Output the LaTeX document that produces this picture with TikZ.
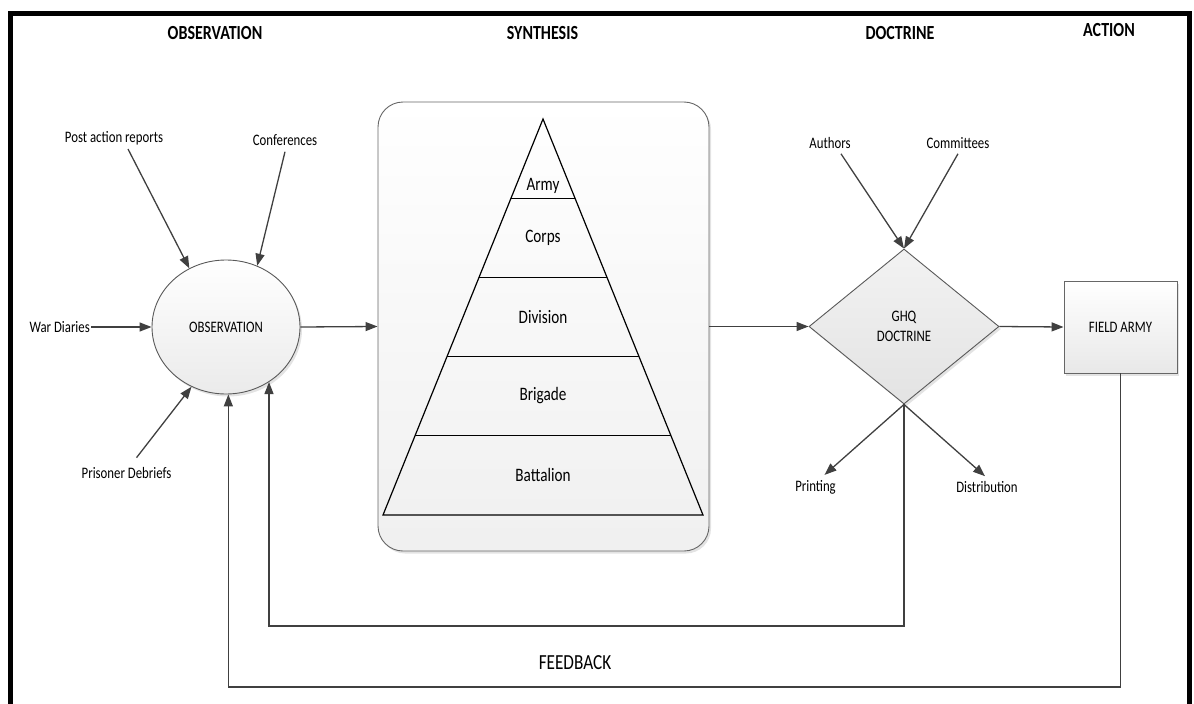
\documentclass[tikz,border=0pt]{standalone}
\usepackage{fontspec}
\setmainfont{Carlito}[FakeStretch=0.8]
\usetikzlibrary{arrows.meta,shapes.geometric,shadows,calc}

\tikzset{
  lbl/.style={font=\fontsize{16}{18}\selectfont, inner sep=1pt, text=black},
  head/.style={font=\fontsize{20}{22}\selectfont\bfseries, inner sep=1pt},
  tier/.style={font=\fontsize{19}{21}\selectfont, inner sep=1pt, text=black},
  link/.style={draw=black!75, line width=1.3pt},
  arr/.style={link, -{Triangle[length=12pt,width=9pt]}},
  soft/.style={drop shadow={opacity=0.22, shadow xshift=2pt, shadow yshift=-2.5pt}},
  pyr/.style={draw=black, line width=1.2pt, line join=miter}
}

\begin{document}
\begin{tikzpicture}[x=1pt, y=-1pt]
\useasboundingbox (0,0) rectangle (1194,704);

% frame
\draw[line width=5pt] (10.5,704) -- (10.5,13) -- (1189.5,13) -- (1189.5,704);

% column headings
\node[head] (hobs) at (215,33) {OBSERVATION};
\node[head] (hsyn) at (542.5,33.5) {SYNTHESIS};
\node[head] (hdoc) at (900,33) {DOCTRINE};
\node[head] (hact) at (1109,30) {ACTION};

% observation
\node[ellipse, draw=black!65, line width=0.9pt, minimum width=148pt, minimum height=134pt,
      inner sep=0pt, top color=white, bottom color=black!8, soft,
      font=\fontsize{16}{18}\selectfont] (obs) at (226,327) {OBSERVATION};

\node[lbl] (pa) at (114,138) {Post action reports};
\node[lbl] (cf) at (285,140) {Conferences};
\node[lbl, anchor=east] (wd) at (91,327) {War Diaries};
\node[lbl] (pd) at (126.5,472.5) {Prisoner Debriefs};

\draw[arr] ([xshift=14pt,yshift=-3pt]pa.south) -- (obs.122);
\draw[arr] ([yshift=-5pt]cf.south) -- (obs.63);
\draw[arr] (wd.east) -- (obs.west);
\draw[arr] ([xshift=10pt,yshift=8pt]pd.north) -- (obs.240);

% synthesis
\node[draw=black!60, line width=0.9pt, rounded corners=25pt, minimum width=331pt,
      minimum height=449pt, top color=white, bottom color=black!6, soft] (syn) at (543.5,326.5) {};

\coordinate (apex) at (543,119);
\coordinate (bl) at (383,515);
\coordinate (br) at (703,515);
\draw[pyr] (apex) -- (br) -- (bl) -- cycle;
\foreach \t in {0.2,0.4,0.6,0.8}
  \draw[pyr] ($(apex)!\t!(bl)$) -- ($(apex)!\t!(br)$);

\node[tier] (army) at (543,186) {Army};
\node[tier] (corps) at (543,238) {Corps};
\node[tier] (div) at (543,317) {Division};
\node[tier] (brig) at (543,396) {Brigade};
\node[tier] (batt) at (543,475) {Battalion};

\draw[arr] (obs.east) -- (syn.west);

% doctrine
\node[diamond, draw=black!65, line width=0.9pt, minimum width=190pt, minimum height=155pt,
      inner sep=0pt, top color=black!5, bottom color=black!11, soft, align=center,
      font=\fontsize{16}{20}\selectfont] (dm) at (904,326.5) {GHQ\\DOCTRINE};

\node[lbl] (au) at (830,143) {Authors};
\node[lbl] (cm) at (958,143) {Committees};
\node[lbl] (pr) at (815.5,487) {Printing};
\node[lbl] (ds) at (987,487) {Distribution};

\draw[arr] ([xshift=11pt,yshift=-4pt]au.south) -- (dm.north);
\draw[arr] ([yshift=-4pt]cm.south) -- (dm.north);
\draw[arr] (dm.south) -- ([xshift=9pt,yshift=4pt]pr.north);
\draw[arr] (dm.south) -- ([xshift=-2pt,yshift=4pt]ds.north);

\draw[arr] (syn.east) -- (dm.west);

% action
\node[draw=black!60, line width=0.9pt, minimum width=113pt, minimum height=92pt,
      top color=white, bottom color=black!9, soft,
      font=\fontsize{16}{18}\selectfont] (fa) at (1120.5,327) {FIELD ARMY};

\draw[arr] (dm.east) -- (fa.west);

% feedback loops
\coordinate (fbin) at (0,626);
\coordinate (fbout) at (0,687);
\draw[arr] (dm.south) -- (dm.south |- fbin) -| (obs.-52);
\draw[arr] (fa.south) -- (fa.south |- fbout) -| (obs.-88.4);

\node[font=\fontsize{21.5}{24}\selectfont, inner sep=1pt] (fb) at (575,663) {FEEDBACK};
\end{tikzpicture}
\end{document}
